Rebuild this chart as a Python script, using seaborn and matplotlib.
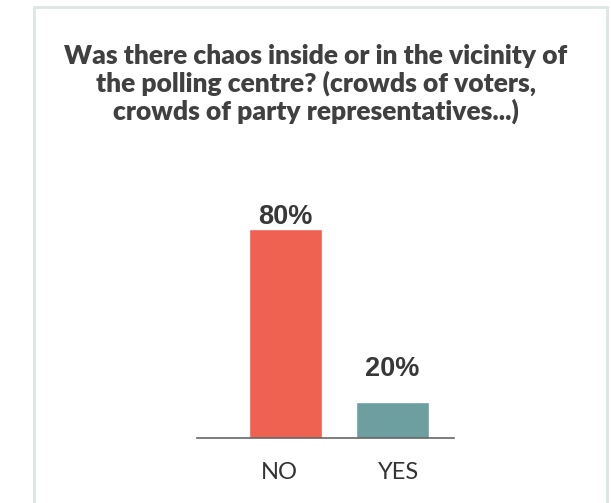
import matplotlib
matplotlib.use("Agg")
import matplotlib.pyplot as plt
import matplotlib.transforms as mtransforms
import seaborn as sns
import pandas as pd
from matplotlib.lines import Line2D

categories = ["NO", "YES"]
values = [80, 20]
value_labels = ["80%", "20%"]
colors = ["#EF6150", "#6D9FA1"]

title = ("Was there chaos inside or in the vicinity of\n"
         "the polling centre? (crowds of voters,\n"
         "crowds of party representatives...)")

sns.set_theme(style="white")
plt.rcParams['font.family'] = ['Lato', 'DejaVu Sans']

df = pd.DataFrame({"answer": categories, "pct": values})

fig = plt.figure(figsize=(6.11, 5.03), dpi=100)
W, H = 611, 503
ax = fig.add_axes([197 / W, (H - 438) / H, (454 - 197) / W, (438 - 200) / H])

sns.barplot(data=df, x="answer", y="pct", hue="answer", palette=colors,
            legend=False, width=0.68, ax=ax, saturation=1)

ax.set_xlim(-0.827, 1.575)
ax.set_ylim(7.5, 90.1)
for s in ["top", "right", "left"]:
    ax.spines[s].set_visible(False)
ax.spines["bottom"].set_color("#666666")
ax.spines["bottom"].set_linewidth(1.2)
ax.set_yticks([])
ax.set_xlabel("")
ax.set_ylabel("")
ax.tick_params(axis="x", length=0, pad=17.5, labelsize=17, labelcolor="#333333")
shifts = [-6, 6]
for t, dx in zip(ax.get_xticklabels(), shifts):
    t.set_fontfamily(["Lato", "DejaVu Sans"])
    t.set_fontweight("normal")
    t.set_transform(t.get_transform() + mtransforms.ScaledTranslation(dx / 100, 0, fig.dpi_scale_trans))

offsets = [3.6, 18.5]
for i, (v, lab) in enumerate(zip(values, value_labels)):
    ax.annotate(lab, xy=(i, v), xytext=(0, offsets[i]), textcoords="offset points",
                ha="center", va="baseline", fontsize=19.5, fontweight="bold",
                color="#383838", family=["Liberation Sans", "DejaVu Sans"])

fig.text(315.5 / W, 1 - 120 / H, title, ha="center", va="baseline", fontsize=19,
         fontweight="heavy", color="#404040", linespacing=1.12,
         family=["Lato", "DejaVu Sans"])

# frame
bc = "#dde6e4"
fig.add_artist(Line2D([34 / W, 34 / W], [0, 1 - 7 / H], color=bc, lw=2, transform=fig.transFigure))
fig.add_artist(Line2D([607 / W, 607 / W], [0, 1 - 7 / H], color=bc, lw=2, transform=fig.transFigure))
fig.add_artist(Line2D([34 / W, 607 / W], [1 - 7 / H, 1 - 7 / H], color=bc, lw=2, transform=fig.transFigure))

fig.savefig("out.png", dpi=100)
